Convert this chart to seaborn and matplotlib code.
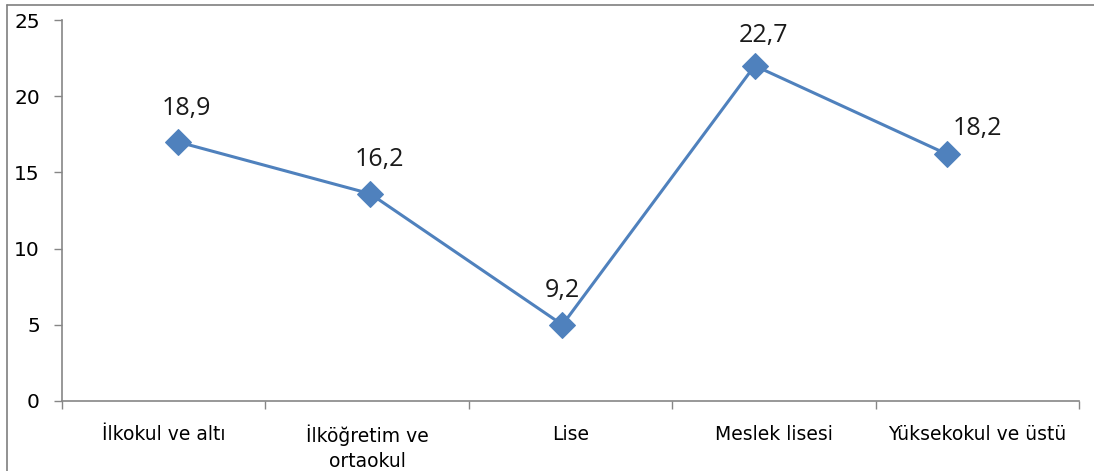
import matplotlib
matplotlib.use("Agg")
import matplotlib.pyplot as plt
import seaborn as sns
import pandas as pd
import numpy as np
from matplotlib.lines import Line2D

categories = ["İlkokul ve altı", "İlköğretim ve\nortaokul", "Lise", "Meslek lisesi", "Yüksekokul ve üstü"]
values = [17.0, 13.6, 5.0, 22.0, 16.2]
labels = ["18,9", "16,2", "9,2", "22,7", "18,2"]
yticks = [0, 5, 10, 15, 20, 25]

sns.set_theme(style="white")
plt.rcParams['font.family'] = ['DejaVu Sans']

fig = plt.figure(figsize=(10.94, 4.71), dpi=100)
ax = fig.add_axes([62/1094, 70/471, (1079-62)/1094, (401-20)/471])

df = pd.DataFrame({"pos": np.arange(len(values)), "value": values})
color = "#4F81BD"
sns.lineplot(data=df, x="pos", y="value", ax=ax, color=color, linewidth=2.2,
             marker="D", markersize=13, markeredgecolor=color, markerfacecolor=color)

xl = (-0.603, 4.687)
ax.set_xlim(*xl)
ax.set_ylim(0, 25)
ax.set_yticks(yticks)
ax.set_yticklabels([str(t) for t in yticks], fontsize=14.5, color="black")

bounds = np.linspace(xl[0], xl[1], len(categories) + 1)
mids = (bounds[:-1] + bounds[1:]) / 2
ax.set_xticks(mids)
ax.set_xticklabels(categories, fontsize=13.5, color="black", linespacing=1.4)
ax.set_xticks(bounds, minor=True)
ax.tick_params(axis="x", which="major", length=0, pad=17)
ax.tick_params(axis="x", which="minor", length=6, width=1, color="#868686", direction="out", bottom=True)
ax.tick_params(axis="y", length=6, width=1, color="#868686", direction="out", left=True, pad=10)
ax.set_xlabel("")
ax.set_ylabel("")

for s in ["top", "right"]:
    ax.spines[s].set_visible(False)
for s in ["left", "bottom"]:
    ax.spines[s].set_color("#868686")
    ax.spines[s].set_linewidth(1.2)

offsets = [(9, 33), (9, 34), (0, 34), (9, 30), (31, 26)]
for i, (v, lab) in enumerate(zip(values, labels)):
    dx, dy = offsets[i]
    ax.annotate(lab, (i, v), xytext=(dx * 0.72, dy * 0.72), textcoords="offset points",
                ha="center", va="center", fontsize=18, family=["Open Sans"], color="#1a1a1a")

fig.add_artist(Line2D([7/1094, 1], [1 - 5/471, 1 - 5/471], color="#7f7f7f", linewidth=1.2, transform=fig.transFigure))
fig.add_artist(Line2D([7/1094, 7/1094], [0, 1 - 5/471], color="#7f7f7f", linewidth=1.2, transform=fig.transFigure))

fig.savefig("out.png", dpi=100, facecolor="white")
